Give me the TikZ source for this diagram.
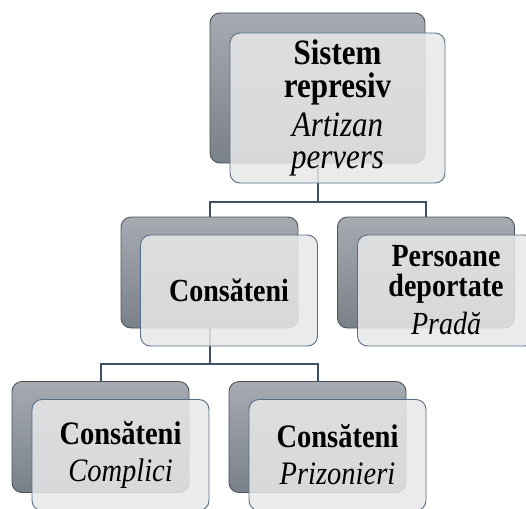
\documentclass[tikz,border=0pt]{standalone}
\usepackage{fontspec}
\usepackage{graphicx}
\setmainfont{Liberation Serif}
\newcommand{\tallt}[1]{\scalebox{1}[1.15]{#1}}
\definecolor{darktop}{HTML}{A6ABB2}
\definecolor{darkbot}{HTML}{7A8089}
\definecolor{darkline}{HTML}{4D5259}
\definecolor{litefill}{HTML}{E8E8E8}
\definecolor{liteline}{HTML}{566D87}
\definecolor{connc}{HTML}{3F4F66}
\tikzset{
  darkbox/.style={rectangle, rounded corners=10pt, draw=darkline, line width=0.9pt,
    top color=darktop, bottom color=darkbot},
  litebox/.style={rectangle, rounded corners=10pt, draw=liteline, line width=0.9pt,
    fill=litefill, fill opacity=0.85, text opacity=1, align=center, inner sep=0pt,
    font=\fontsize{28}{31}\selectfont},
  conn/.style={draw=connc, line width=2pt},
  bigw/.style={minimum width=215pt, minimum height=150pt},
  smw/.style={minimum width=177pt, minimum height=111pt}
}
\begin{document}
\begin{tikzpicture}[x=1pt,y=-1pt]
\useasboundingbox (0,0) rectangle (526,508);
% back boxes
\node[darkbox, bigw] (d1) at (317.5,88) {};
\node[darkbox, smw] (d2) at (209.5,272.5) {};
\node[darkbox, smw] (d3) at (426,272.5) {};
\node[darkbox, smw] (d4) at (100.5,437) {};
\node[darkbox, smw] (d5) at (317.5,437) {};
% connectors
\coordinate (j1) at (317.5,202);
\coordinate (j2) at (209.5,363.5);
\draw[conn] (d1.south) -- (j1);
\draw[conn] (j1) -| (d2.north);
\draw[conn] (j1) -| (d3.north);
\draw[conn] (d2.south) -- (j2);
\draw[conn] (j2) -| (d4.north);
\draw[conn] (j2) -| (d5.north);
% front boxes
\node[litebox, bigw, font=\fontsize{31}{32.5}\selectfont] (l1) at (337.5,108)
  {\tallt{\textbf{Sistem}}\\\tallt{\textbf{represiv}}\\[6.5pt]\tallt{\textit{Artizan}}\\\tallt{\textit{pervers}}};
\node[litebox, smw] (l2) at (229,290.5) {\tallt{\textbf{Consăteni}}};
\node[litebox, smw, font=\fontsize{28}{30}\selectfont] (l3) at (446,290.5)
  {\tallt{\textbf{Persoane}}\\\tallt{\textbf{deportate}}\\[8pt]\tallt{\textit{Pradă}}};
\node[litebox, smw, font=\fontsize{28.5}{31}\selectfont] (l4) at (120.5,455)
  {\tallt{\textbf{Consăteni}}\\[6pt]\tallt{\textit{Complici}}};
\node[litebox, smw, font=\fontsize{28.5}{31}\selectfont] (l5) at (337.5,455)
  {\tallt{\textbf{Consăteni}}\\[6pt]\tallt{\textit{Prizonieri}}};
\end{tikzpicture}
\end{document}
